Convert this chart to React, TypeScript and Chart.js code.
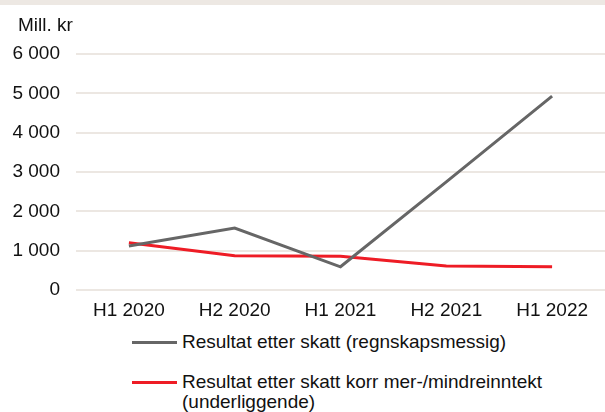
import React, { useEffect, useRef } from "react";
import { Chart, registerables } from "chart.js";

Chart.register(...registerables);

const categories = ["H1 2020", "H2 2020", "H1 2021", "H2 2021", "H1 2022"];
const seriesNames = [
  "Resultat etter skatt (regnskapsmessig)",
  "Resultat etter skatt korr mer-/mindreinntekt (underliggende)",
];
const resultatRegnskap = [1120, 1575, 590, 2750, 4930];
const resultatUnderliggende = [1200, 870, 860, 610, 590];
const yTicks = [0, 1000, 2000, 3000, 4000, 5000, 6000];
const yUnit = "Mill. kr";

const FONT = "'Liberation Sans', Arial, sans-serif";
const GRAY = "#666666";
const RED = "#ee1c25";

function fmt(v: number): string {
  return String(v).replace(/\B(?=(\d{3})+(?!\d))/g, " ");
}

export default function App() {
  const ref = useRef<HTMLCanvasElement | null>(null);

  useEffect(() => {
    document.body.style.margin = "0";
    const ctx = ref.current!;
    const chart = new Chart(ctx, {
      type: "line",
      data: {
        labels: categories,
        datasets: [
          {
            label: seriesNames[0],
            data: resultatRegnskap,
            borderColor: GRAY,
            backgroundColor: GRAY,
            borderWidth: 3,
            pointRadius: 0,
            tension: 0,
          },
          {
            label: seriesNames[1],
            data: resultatUnderliggende,
            borderColor: RED,
            backgroundColor: RED,
            borderWidth: 3,
            pointRadius: 0,
            tension: 0,
          },
        ],
      },
      options: {
        animation: false,
        responsive: false,
        maintainAspectRatio: false,
        layout: { padding: { top: 54, right: 0, bottom: 0, left: 0 } },
        plugins: {
          legend: { display: false },
          tooltip: { enabled: false },
        },
        scales: {
          x: {
            offset: true,
            grid: { display: false, drawTicks: false },
            border: { display: false },
            ticks: {
              color: "#111",
              font: { family: FONT, size: 19 },
              padding: 9,
              maxRotation: 0,
            },
            afterFit: (s: any) => {
              s.height = 40;
            },
          },
          y: {
            min: 0,
            max: 6000,
            afterBuildTicks: (s: any) => {
              s.ticks = yTicks.map((v) => ({ value: v }));
            },
            grid: { color: "#ece7e2", lineWidth: 2, drawTicks: false },
            border: { display: false },
            ticks: {
              color: "#111",
              font: { family: FONT, size: 19 },
              padding: 16,
              callback: (v: any) => fmt(Number(v)),
            },
            afterFit: (s: any) => {
              s.width = 76;
            },
          },
        },
      },
    });
    return () => chart.destroy();
  }, []);

  const legendText: React.CSSProperties = {
    position: "absolute",
    left: 182,
    fontFamily: FONT,
    fontSize: 19,
    lineHeight: "20px",
    color: "#111",
    whiteSpace: "nowrap",
  };

  return (
    <div
      style={{
        position: "relative",
        width: 605,
        height: 412,
        background: "#fff",
        overflow: "hidden",
      }}
    >
      <div
        style={{
          position: "absolute",
          left: 0,
          top: 0,
          width: 605,
          height: 5,
          background: "#ede8e3",
        }}
      />
      <canvas
        ref={ref}
        width={605}
        height={330}
        style={{ position: "absolute", left: 0, top: 0, width: 605, height: 330 }}
      />
      <div
        style={{
          position: "absolute",
          left: 18,
          top: 15,
          fontFamily: FONT,
          fontSize: 19,
          lineHeight: "20px",
          color: "#111",
        }}
      >
        {yUnit}
      </div>
      <div
        style={{
          position: "absolute",
          left: 132,
          top: 341,
          width: 45,
          height: 3,
          background: GRAY,
        }}
      />
      <div style={{ ...legendText, top: 332 }}>{seriesNames[0]}</div>
      <div
        style={{
          position: "absolute",
          left: 132,
          top: 381,
          width: 45,
          height: 3,
          background: RED,
        }}
      />
      <div style={{ ...legendText, top: 372 }}>
        Resultat etter skatt korr mer-/mindreinntekt
        <br />
        (underliggende)
      </div>
    </div>
  );
}
